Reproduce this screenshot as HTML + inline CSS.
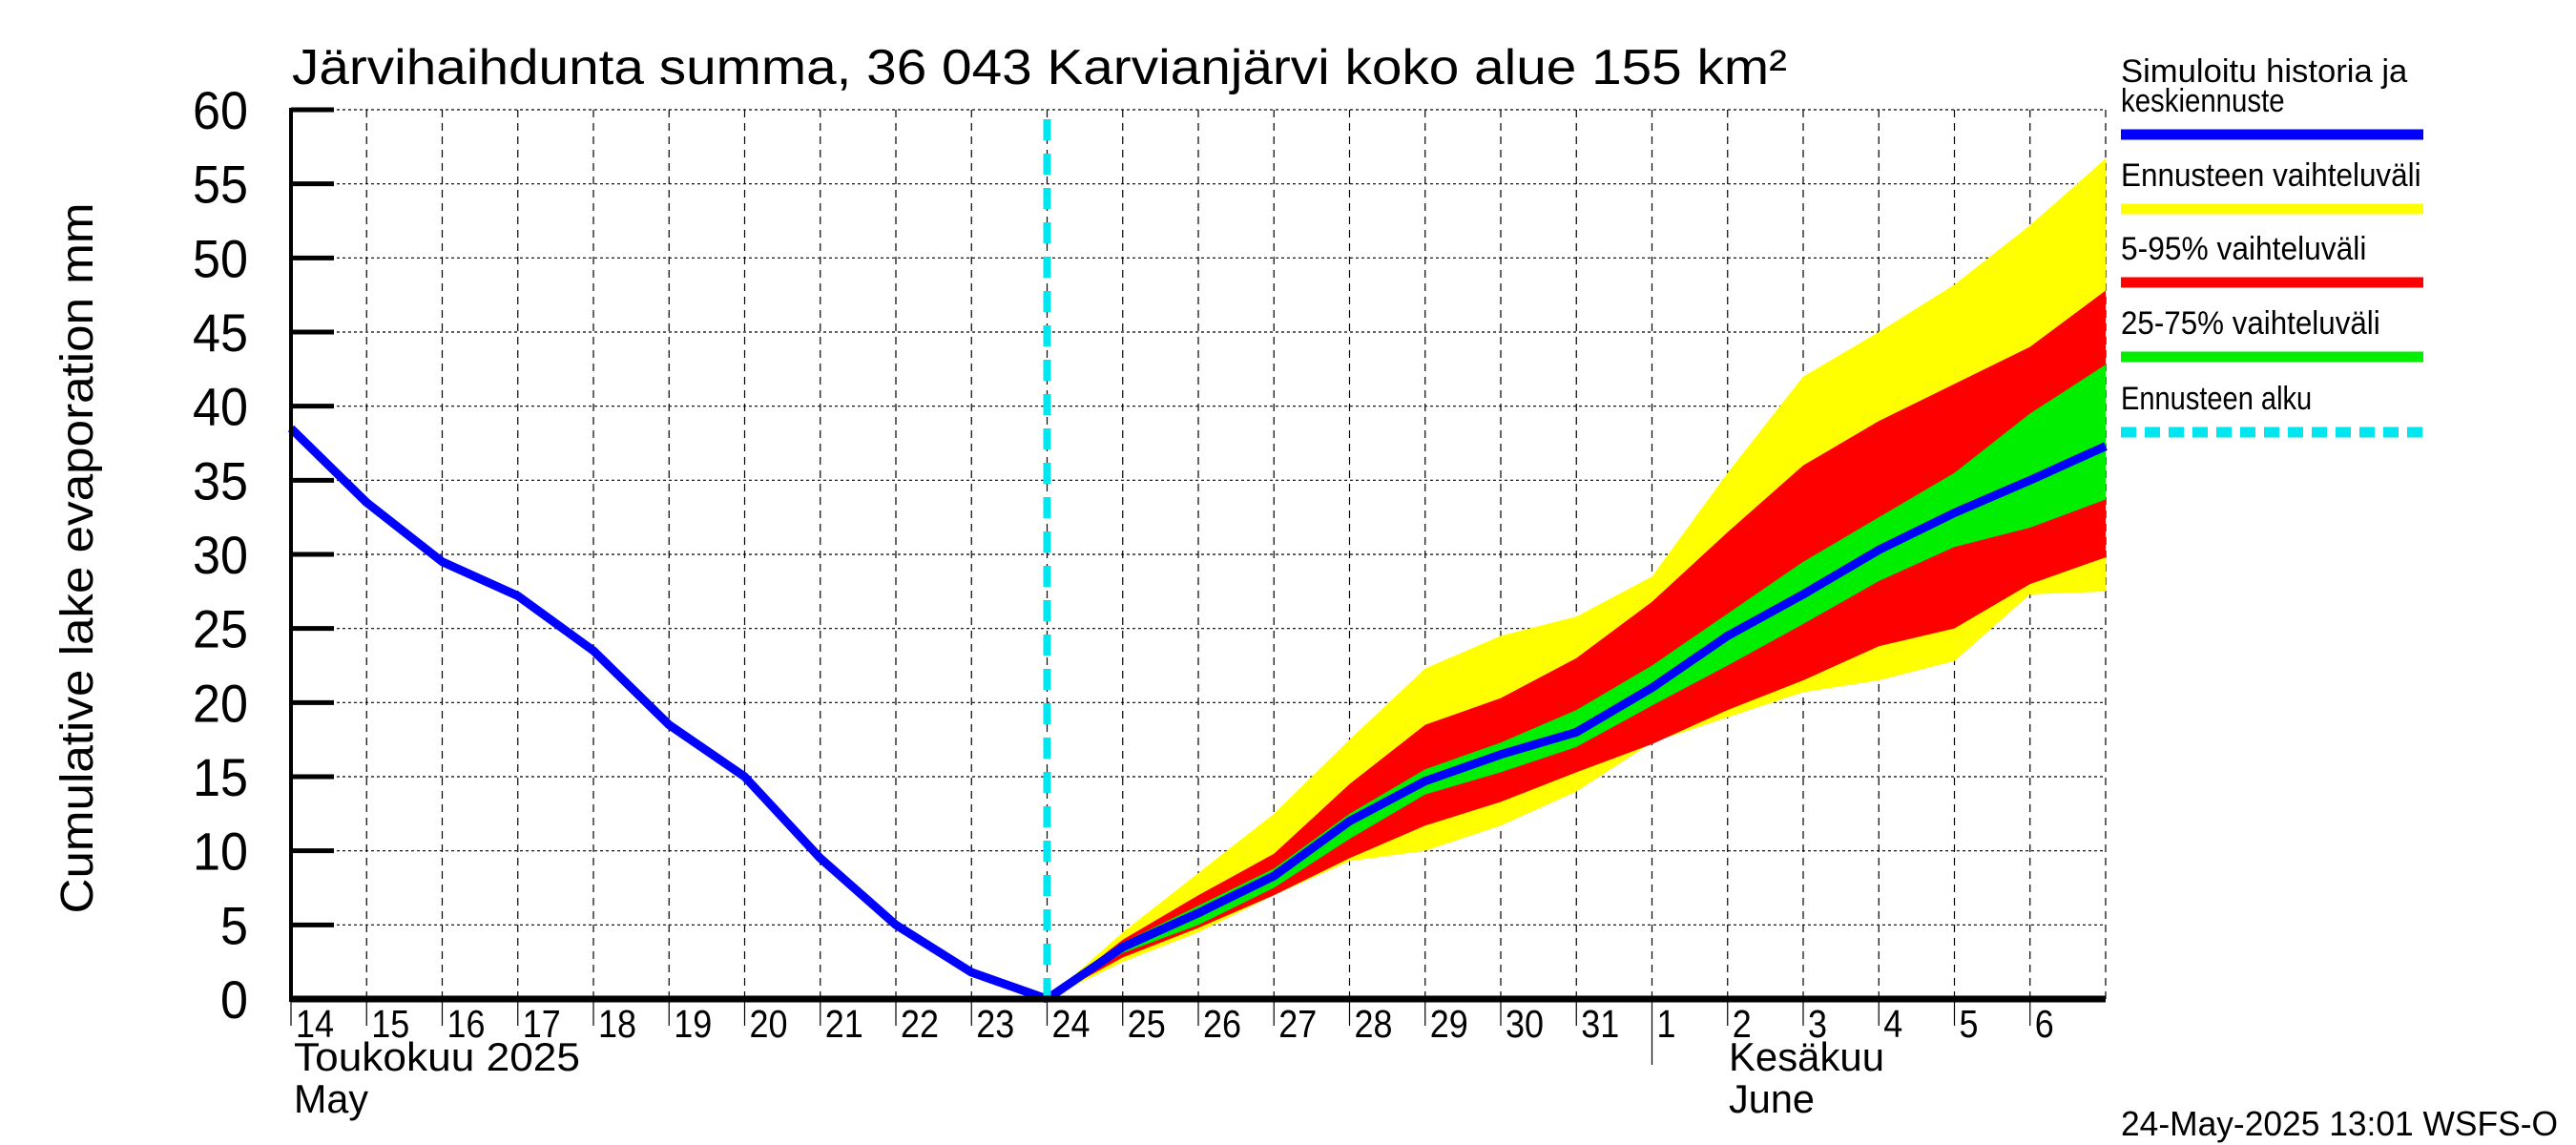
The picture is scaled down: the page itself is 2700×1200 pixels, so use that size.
<!DOCTYPE html>
<html><head><meta charset="utf-8">
<style>html,body{margin:0;padding:0;background:#fff}svg{display:block}text{font-family:"Liberation Sans",sans-serif;fill:#000}</style>
</head><body>
<svg id="chart" width="2700" height="1200" viewBox="0 0 2700 1200" xmlns="http://www.w3.org/2000/svg">
<text x="306" y="88" font-size="52" textLength="1567" lengthAdjust="spacingAndGlyphs">Järvihaihdunta summa, 36 043 Karvianjärvi koko alue 155 km²</text>
<text transform="translate(97,585) rotate(-90)" font-size="48" text-anchor="middle" textLength="745" lengthAdjust="spacingAndGlyphs">Cumulative lake evaporation   mm</text>
<g id="grid"></g>
<g id="bands"></g>
<g id="lines"></g>
<g id="axes"></g>
<g id="legend"></g>
<text x="308" y="1122" font-size="42" textLength="300" lengthAdjust="spacingAndGlyphs">Toukokuu  2025</text>
<text x="308" y="1166" font-size="42" textLength="78" lengthAdjust="spacingAndGlyphs">May</text>
<text x="1812" y="1122" font-size="42" textLength="163" lengthAdjust="spacingAndGlyphs">Kesäkuu</text>
<text x="1812" y="1166" font-size="42" textLength="90" lengthAdjust="spacingAndGlyphs">June</text>
<text x="2223" y="1190" font-size="36" textLength="458" lengthAdjust="spacingAndGlyphs">24-May-2025 13:01 WSFS-O</text>
</svg>
<script>
const yTicks = [0,5,10,15,20,25,30,35,40,45,50,55,60];
const dayLabels = ["14","15","16","17","18","19","20","21","22","23","24","25","26","27","28","29","30","31","1","2","3","4","5","6"];
const histDays = [0,1,2,3,4,5,6,7,8,9,10];
const histValues = [38.5,33.5,29.5,27.2,23.5,18.5,15,9.5,5,1.8,0];
const fcDays = [10,11,12,13,14,15,16,17,18,19,20,21,22,23,24];
const median = [0,3.5,5.8,8.3,12,14.7,16.5,18,21,24.5,27.3,30.3,32.8,35,37.3];
const p25 = [0,3.1,5,7.5,10.8,13.8,15.3,17,19.8,22.5,25.3,28.2,30.5,31.8,33.7];
const p75 = [0,3.8,6.3,8.8,12.5,15.5,17.3,19.5,22.5,26,29.5,32.5,35.5,39.5,42.8];
const p05 = [0,2.8,4.8,7,9.5,11.7,13.3,15.3,17.2,19.5,21.5,23.8,25,28,29.8];
const p95 = [0,4,7,9.8,14.5,18.5,20.3,23,26.8,31.5,36,39,41.5,44,47.8];
const minV = [0,2.5,4.5,7,9.3,10,11.7,14,17.3,19,20.7,21.5,22.8,27.3,27.5];
const maxV = [0,4.5,8.5,12.5,17.5,22.3,24.5,25.8,28.5,35.5,42,45,48.2,52.2,56.7];
const forecastStartDay = 10;

const NS="http://www.w3.org/2000/svg";
const X0=305,X1=2207,Y0=1047,Y1=115,NDAYS=24,YMAX=60;
const xs=d=>X0+(X1-X0)*d/NDAYS;
const ys=v=>Y0-(Y0-Y1)*v/YMAX;
function mk(tag,attrs,parent){const e=document.createElementNS(NS,tag);for(const k in attrs)e.setAttribute(k,attrs[k]);parent.appendChild(e);return e;}
const grid=document.getElementById('grid'),bands=document.getElementById('bands'),lines=document.getElementById('lines'),axes=document.getElementById('axes'),legend=document.getElementById('legend');

yTicks.forEach(v=>{
  if(v>0){const g=mk('line',{x1:X0,x2:X1,y1:ys(v),y2:ys(v),stroke:'#000','stroke-width':1.2,'stroke-dasharray':'3,3'},grid);
  
  }
  const t=mk('line',{x1:X0,x2:X0+45,y1:ys(v),y2:ys(v),stroke:'#000','stroke-width':5},axes);
  
  
  const l=mk('text',{x:X0-45,y:ys(v)+20,'font-size':56,'text-anchor':'end',textLength:String(v).length*29,lengthAdjust:'spacingAndGlyphs'},axes);
  l.textContent=v;
  
  
});
dayLabels.forEach((s,i)=>{
  const x=xs(i);
  if(i>0){const g=mk('line',{x1:x,x2:x,y1:Y1,y2:Y0,stroke:'#000','stroke-width':1.2,'stroke-dasharray':'8,6'},grid);
  
  }
  const t=mk('line',{x1:x,x2:x,y1:Y0,y2:s==="1"?1116:1075,stroke:'#000','stroke-width':1.2},axes);
  
  
  const l=mk('text',{x:x+5,y:1087,'font-size':41,textLength:s.length*20,lengthAdjust:'spacingAndGlyphs'},axes);
  l.textContent=s;
  
  
});
const rx=mk('line',{x1:X1,x2:X1,y1:Y1,y2:Y0,stroke:'#000','stroke-width':1.2,'stroke-dasharray':'8,6'},grid);



function band(lo,hi,color,name){
  let pts=fcDays.map((d,i)=>xs(d)+','+ys(hi[i]));
  pts=pts.concat(fcDays.map((d,i)=>xs(d)+','+ys(lo[i])).reverse());
  const p=mk('polygon',{points:pts.join(' '),fill:color},bands);
  
  
}
band(minV,maxV,'#ffff00','forecast-range-band');
band(p05,p95,'#ff0000','p5-p95-band');
band(p25,p75,'#00ee00','p25-p75-band');

const hl=mk('polyline',{points:histDays.map((d,i)=>xs(d)+','+ys(histValues[i])).join(' '),fill:'none',stroke:'#0000ff','stroke-width':9,'stroke-linejoin':'round'},lines);


const ml=mk('polyline',{points:fcDays.map((d,i)=>xs(d)+','+ys(median[i])).join(' '),fill:'none',stroke:'#0000ff','stroke-width':9,'stroke-linejoin':'round'},lines);


const fs=mk('line',{x1:xs(forecastStartDay),x2:xs(forecastStartDay),y1:125,y2:Y0,stroke:'#00e5ee','stroke-width':8,'stroke-dasharray':'22,14'},lines);



const ax=mk('line',{x1:X0,x2:X0,y1:Y1-2,y2:Y0+3,stroke:'#000','stroke-width':4},axes);


const bx=mk('line',{x1:X0,x2:X1,y1:Y0,y2:Y0,stroke:'#000','stroke-width':7},axes);



const legendLabels=[["Simuloitu historia ja","keskiennuste"],["Ennusteen vaihteluväli"],["5-95% vaihteluväli"],["25-75% vaihteluväli"],["Ennusteen alku"]];
const legendColors=['#0000ff','#ffff00','#ff0000','#00ee00','#00e5ee'];
const legendLineY=[141,219,296,374,453];
legendLabels.forEach((lab,i)=>{
  const ly=legendLineY[i];
  lab.forEach((s,j)=>{
    const t=mk('text',{x:2223,y:ly-24-(lab.length-1-j)*31,'font-size':34,textLength:s.length*14.3,lengthAdjust:'spacingAndGlyphs'},legend);
    t.textContent=s;
    
    
  });
  const a={x1:2223,x2:2540,y1:ly,y2:ly,stroke:legendColors[i],'stroke-width':11};
  if(i===4)a['stroke-dasharray']='16,9';
  const l=mk('line',a,legend);
  
  
});
</script>
</body></html>
